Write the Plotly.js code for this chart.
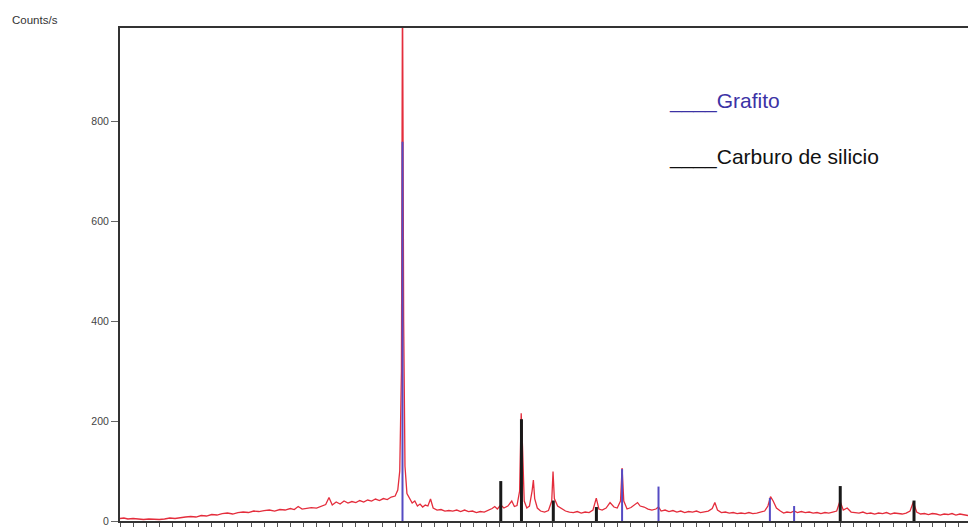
<!DOCTYPE html>
<html>
<head>
<meta charset="utf-8">
<script src="https://cdn.plot.ly/plotly-3.0.1.min.js"></script>
<style>
html,body{margin:0;padding:0;background:#fff;overflow:hidden;}
#chart{width:1000px;height:527px;}
</style>
</head>
<body>
<div id="chart"></div>
<script>
// Measured pattern (2θ in degrees, intensity in counts/s)
const twoTheta = [
5.0,5.3,5.6,6.0,6.4,6.8,7.2,7.6,8.0,8.4,8.8,9.2,9.6,10.0,10.4,10.8,11.2,11.6,12.0,12.4,12.8,13.2,13.6,14.0,14.4,14.8,15.2,15.6,16.0,16.4,16.8,17.2,17.6,18.0,18.3,18.6,18.9,19.2,19.6,20.0,20.4,20.7,20.95,21.2,21.5,21.8,22.1,22.4,22.7,23.0,23.3,23.6,23.9,24.2,24.5,24.8,25.1,25.4,25.7,26.0,26.2,26.35,26.48,26.56,26.65,26.75,26.9,27.1,27.3,27.5,27.7,27.9,28.1,28.3,28.5,28.7,28.9,29.2,29.5,29.8,30.1,30.4,30.7,31.0,31.3,31.6,31.9,32.2,32.5,32.8,33.1,33.4,33.6,33.8,34.06,34.3,34.6,34.9,35.1,35.3,35.5,35.62,35.72,35.85,36.05,36.25,36.45,36.55,36.65,36.85,37.1,37.4,37.7,37.95,38.05,38.15,38.4,38.7,39.0,39.3,39.6,39.9,40.2,40.5,40.8,41.1,41.35,41.55,41.8,42.1,42.4,42.7,42.95,43.2,43.32,43.45,43.7,44.0,44.3,44.5,44.7,45.0,45.3,45.6,45.9,46.1,46.3,46.6,46.9,47.2,47.5,47.8,48.1,48.4,48.7,49.0,49.3,49.6,49.9,50.2,50.4,50.6,50.9,51.2,51.5,51.8,52.1,52.4,52.7,53.0,53.3,53.6,53.9,54.2,54.45,54.65,54.85,55.1,55.4,55.65,55.9,56.2,56.45,56.7,57.0,57.3,57.6,57.9,58.2,58.5,58.8,59.1,59.4,59.7,59.95,60.2,60.5,60.8,61.1,61.4,61.7,62.0,62.3,62.6,62.9,63.2,63.5,63.8,64.1,64.4,64.7,65.0,65.3,65.55,65.8,66.1,66.4,66.7,67.0,67.3,67.6,67.9,68.2,68.5,68.8,69.1,69.4,69.7,70.0,70.3,70.6,70.9,71.2,71.4
];
const counts = [
5,6,4,5,4,3,4,3,3,4,6,5,7,8,9,8,11,10,13,12,15,16,14,17,18,17,20,19,21,22,20,23,22,25,23,29,24,25,27,26,30,33,47,32,38,34,40,36,39,37,41,38,42,40,44,41,45,43,48,50,62,100,300,1100,400,110,55,46,36,40,30,34,28,32,30,44,26,22,23,20,21,20,22,19,22,19,20,17,19,18,21,25,29,24,32,26,30,40,29,31,60,216,150,40,26,30,60,82,45,26,20,18,21,40,99,45,30,25,20,18,17,19,16,18,17,22,46,24,22,26,37,28,26,40,106,40,24,27,32,37,30,28,24,22,24,28,20,22,19,21,18,20,17,19,18,20,17,19,20,25,37,22,17,18,16,17,15,16,15,17,15,16,18,20,30,49,40,26,20,16,18,17,20,17,19,17,18,16,17,15,17,16,18,20,40,22,26,18,17,16,18,15,16,14,16,15,17,14,16,15,14,16,20,38,18,14,15,13,15,14,12,14,13,15,12,14,13,11,13,12,13,11,12,12
];

// Reference stick patterns
const grafitoPos = [26.56, 43.32, 46.1, 54.6, 56.45];
const grafitoInt = [760, 104, 69, 46, 30];
const sicPos = [34.06, 35.64, 38.07, 41.36, 59.97, 65.6];
const sicInt = [80, 204, 41, 28, 70, 41];

const yTicks = [0, 200, 400, 600, 800];

function sticks(pos, h) {
  const xs = [], ys = [];
  pos.forEach((p, i) => { xs.push(p, p, null); ys.push(0, h[i], null); });
  return {x: xs, y: ys};
}
const g = sticks(grafitoPos, grafitoInt);
const s = sticks(sicPos, sicInt);

const traces = [
  {x: twoTheta, y: counts, type: 'scatter', mode: 'lines',
   line: {color: 'rgb(228,45,60)', width: 1.3}, hoverinfo: 'x+y'},
  {x: g.x, y: g.y, type: 'scatter', mode: 'lines',
   line: {color: 'rgb(85,75,195)', width: 2}, connectgaps: false},
  {x: s.x, y: s.y, type: 'scatter', mode: 'lines',
   line: {color: 'rgb(25,25,25)', width: 3}, connectgaps: false}
];

const layout = {
  width: 1000, height: 527,
  margin: {l: 120, r: 10, t: 28, b: 6},
  paper_bgcolor: '#fff', plot_bgcolor: '#fff',
  showlegend: false,
  font: {family: 'Liberation Sans, Arial, sans-serif', color: '#333'},
  xaxis: {
    range: [5, 71.4], showgrid: false, zeroline: false,
    showline: true, mirror: true, linecolor: '#333', linewidth: 2,
    ticks: 'outside', dtick: 1, tick0: 5, ticklen: 5, tickcolor: '#555', tickwidth: 1,
    showticklabels: false
  },
  yaxis: {
    range: [0, 988], showgrid: false, zeroline: false,
    showline: true, mirror: true, linecolor: '#333', linewidth: 2,
    ticks: 'outside', tickvals: yTicks, ticktext: yTicks.map(String),
    ticklen: 7, tickcolor: '#666', tickwidth: 1,
    tickfont: {size: 10.5, color: '#444', family: 'Liberation Sans, Arial, sans-serif'}
  },
  annotations: [
    {text: 'Counts/s', xref: 'paper', yref: 'paper', x: -0.126, y: 1.017,
     xanchor: 'left', yanchor: 'middle', showarrow: false,
     font: {size: 11.5, color: '#333', family: 'Liberation Sans, Arial, sans-serif'}},
    {text: '____Grafito', xref: 'paper', yref: 'paper', x: 0.6287, y: 0.851,
     xanchor: 'left', yanchor: 'middle', showarrow: false,
     font: {size: 21, color: 'rgb(60,50,165)', family: 'Liberation Sans, Arial, sans-serif'}},
    {text: '____Carburo de silicio', xref: 'paper', yref: 'paper', x: 0.6287, y: 0.739,
     xanchor: 'left', yanchor: 'middle', showarrow: false,
     font: {size: 21, color: '#111', family: 'Liberation Sans, Arial, sans-serif'}}
  ]
};

Plotly.newPlot('chart', traces, layout, {displayModeBar: false, staticPlot: true});
</script>
</body>
</html>
